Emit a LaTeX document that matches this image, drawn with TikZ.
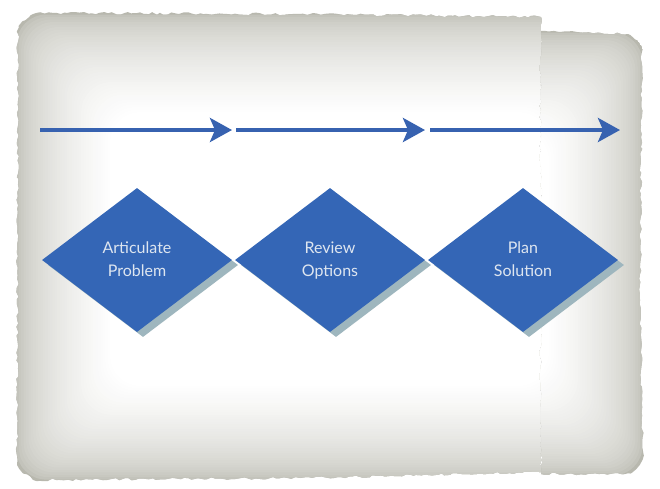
\documentclass[tikz,border=0pt]{standalone}
\usepackage{fontspec}
\setmainfont{Lato}
\usetikzlibrary{shapes.geometric,arrows.meta,decorations.pathmorphing}
\definecolor{paperedge}{RGB}{184,184,174}
\definecolor{stepblue}{RGB}{52,102,182}
\definecolor{stepshadow}{RGB}{158,182,190}
\definecolor{arrowblue}{RGB}{55,98,176}
\definecolor{labeltext}{RGB}{222,230,240}
\begin{document}
\begin{tikzpicture}[x=1pt,y=-1pt,
  stepbox/.style={diamond, fill=stepblue, minimum width=190pt, minimum height=144pt,
    inner sep=0pt, text=labeltext, font=\fontsize{16}{23}\selectfont, align=center},
  stepshade/.style={diamond, fill=stepshadow, minimum width=190pt, minimum height=144pt, inner sep=0pt},
  flow/.style={draw=arrowblue, line width=4pt, -{Stealth[length=22pt,width=24pt,inset=5pt]}},
  torn/.style={decorate, decoration={random steps, segment length=4pt, amplitude=1.3pt}}]
\pgfmathsetseed{7}
\useasboundingbox (0,0) rectangle (660,488);
\fill[white] (0,0) rectangle (660,488);

% main sheet with its grey vignette
\begin{scope}
  \clip[torn] (18,24) -- (36,13) -- (300,14) -- (541,17) -- (541,472) -- (300,478) -- (33,480) -- (17,468) -- cycle;
  \foreach \i in {0,...,40} {
    \pgfmathsetmacro\p{100*(\i/40)^0.5}
    \fill[white!\p!paperedge, rounded corners=30pt] (14+2.4*\i, 12+2.5*\i) rectangle (645-2.4*\i, 482-2.4*\i);
  }
\end{scope}

% narrower right-hand strip, set a little lower
\begin{scope}
  \clip[torn] (541,31) -- (628,34) -- (642,46) -- (640,300) -- (643,462) -- (632,474) -- (541,474) -- cycle;
  \foreach \i in {0,...,40} {
    \pgfmathsetmacro\p{100*(\i/40)^0.5}
    \fill[white!\p!paperedge, rounded corners=30pt] (14+2.4*\i, 30+2.5*\i) rectangle (645-2.4*\i, 478-2.4*\i);
  }
\end{scope}

% process steps
\node[stepshade] (sh1) at (143,265) {};
\node[stepshade] (sh2) at (336,265) {};
\node[stepshade] (sh3) at (529,265) {};
\node[stepbox] (art) at (137,260) {\strut Articulate\\\strut Problem};
\node[stepbox] (rev) at (330,260) {\strut Review\\\strut Options};
\node[stepbox] (plan) at (523,260) {\strut Plan\\\strut Solution};

% flow arrows above the steps
\coordinate (s1) at (40,130);
\coordinate (e1) at (232,130);
\coordinate (s2) at (236,130);
\coordinate (e2) at (425,130);
\coordinate (s3) at (430,130);
\coordinate (e3) at (620,130);
\draw[flow] (s1) -- (e1);
\draw[flow] (s2) -- (e2);
\draw[flow] (s3) -- (e3);
\end{tikzpicture}
\end{document}
